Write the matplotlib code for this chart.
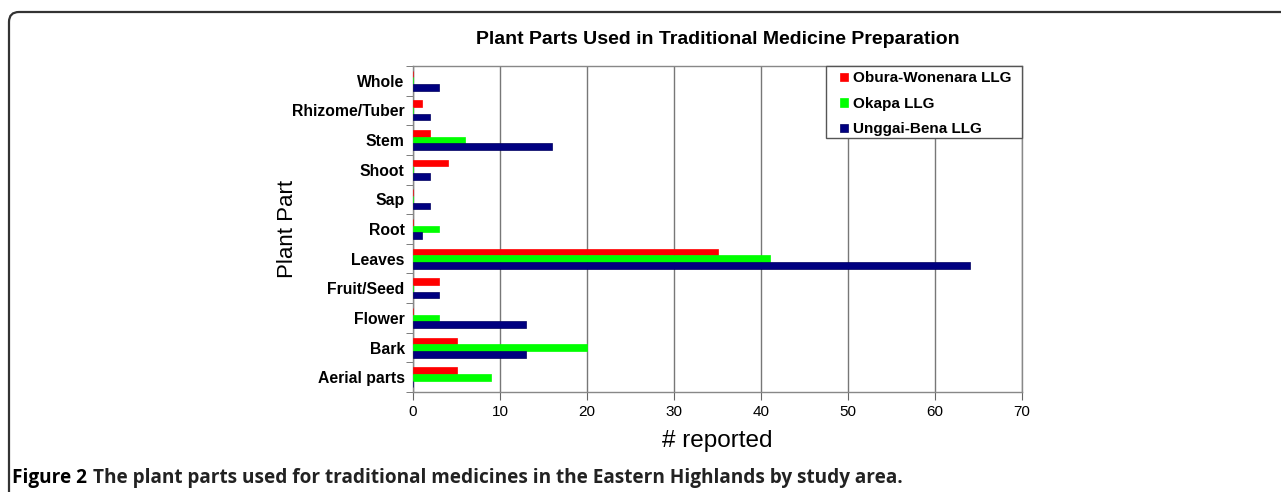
import matplotlib
matplotlib.use("Agg")
import matplotlib.pyplot as plt
import numpy as np
from matplotlib.patches import FancyBboxPatch, Rectangle
from matplotlib.transforms import IdentityTransform

categories = ["Whole", "Rhizome/Tuber", "Stem", "Shoot", "Sap", "Root",
              "Leaves", "Fruit/Seed", "Flower", "Bark", "Aerial parts"]
obura = [0, 1, 2, 4, 0, 0, 35, 3, 0, 5, 5]
okapa = [0, 0, 6, 0, 0, 3, 41, 0, 3, 20, 9]
unggai = [3, 2, 16, 2, 2, 1, 64, 3, 13, 13, 0]
series_names = ["Obura-Wonenara LLG", "Okapa LLG", "Unggai-Bena LLG"]
xticks = [0, 10, 20, 30, 40, 50, 60, 70]

plt.rcParams['font.family'] = ['Liberation Sans', 'DejaVu Sans']

W, H = 1281, 492
fig = plt.figure(figsize=(W / 100, H / 100), dpi=100)
ax = fig.add_axes([413 / W, 1 - 392 / H, (1022 - 413) / W, (392 - 66) / H])

n = len(categories)
ypos = np.arange(n)[::-1].astype(float)
h = 0.225
cols = ["#ff0000", "#00ff00", "#000080"]
for k, (vals, c, nm) in enumerate(zip([obura, okapa, unggai], cols, series_names)):
    ax.barh(ypos + (1 - k) * h, vals, height=h, color=c, label=nm, zorder=3,
            edgecolor=c if k < 2 else "#000060", linewidth=0.5)

ax.set_xlim(0, 70)
ax.set_ylim(-0.5, n - 0.5)
ax.set_xticks(xticks)
ax.set_xticklabels([str(v) for v in xticks], fontsize=11)
ax.set_yticks(ypos)
ax.set_yticklabels(categories, fontsize=11.3, fontweight='bold')
ax.tick_params(axis='y', length=0, pad=6)
ax.set_yticks(np.arange(n + 1) - 0.5, minor=True)
ax.tick_params(axis='y', which='minor', length=5, color='#666666', direction='out')
ax.tick_params(axis='x', length=6, color='#666666', direction='out', pad=3)
ax.grid(axis='x', color='#777777', linewidth=1, zorder=0)
for s in ax.spines.values():
    s.set_color('#888888')
    s.set_linewidth(1)

ax.set_xlabel("# reported", fontsize=17.5, labelpad=8)
ax.set_ylabel("Plant Part", fontsize=16, labelpad=-4)
ax.set_title("Plant Parts Used in Traditional Medicine Preparation",
             fontsize=14, fontweight='bold', pad=16)

leg = ax.legend(loc='upper left', bbox_to_anchor=((840 - 413) / 609, 1 - 5.5 / 326),
                borderaxespad=0, frameon=False,
                prop={'family': 'Liberation Sans', 'weight': 'bold', 'size': 11},
                handlelength=0.5, handleheight=0.5, handletextpad=0.35,
                labelspacing=0.75, borderpad=0)
leg.set_zorder(5)
frame = Rectangle(((826 - 413) / 609, 1 - (138 - 66) / 326), (1022 - 826) / 609,
                  (138 - 66) / 326, transform=ax.transAxes, facecolor='white',
                  edgecolor='#555555', linewidth=1, zorder=4, clip_on=False)
ax.add_patch(frame)

t1 = fig.text(12 / W, 1 - 478 / H, "Figure 2", fontsize=13.7, fontweight='bold',
              va='center', ha='left', family=['Open Sans', 'DejaVu Sans'])
fig.canvas.draw()
r = fig.canvas.get_renderer()
bb = t1.get_window_extent(r)
fig.text((bb.x1 + 6) / W, 1 - 478 / H,
         "The plant parts used for traditional medicines in the Eastern Highlands by study area.",
         fontsize=13.7, fontweight='bold', va='center', ha='left',
         family=['Open Sans', 'DejaVu Sans'], color='#222222')

border = FancyBboxPatch((9, -60), 1500, H - 12 + 60, boxstyle="round,pad=0,rounding_size=10",
                        transform=IdentityTransform(), fill=False, edgecolor='#333333',
                        linewidth=1.6)
fig.patches.append(border)

fig.savefig("out.png", dpi=100)
